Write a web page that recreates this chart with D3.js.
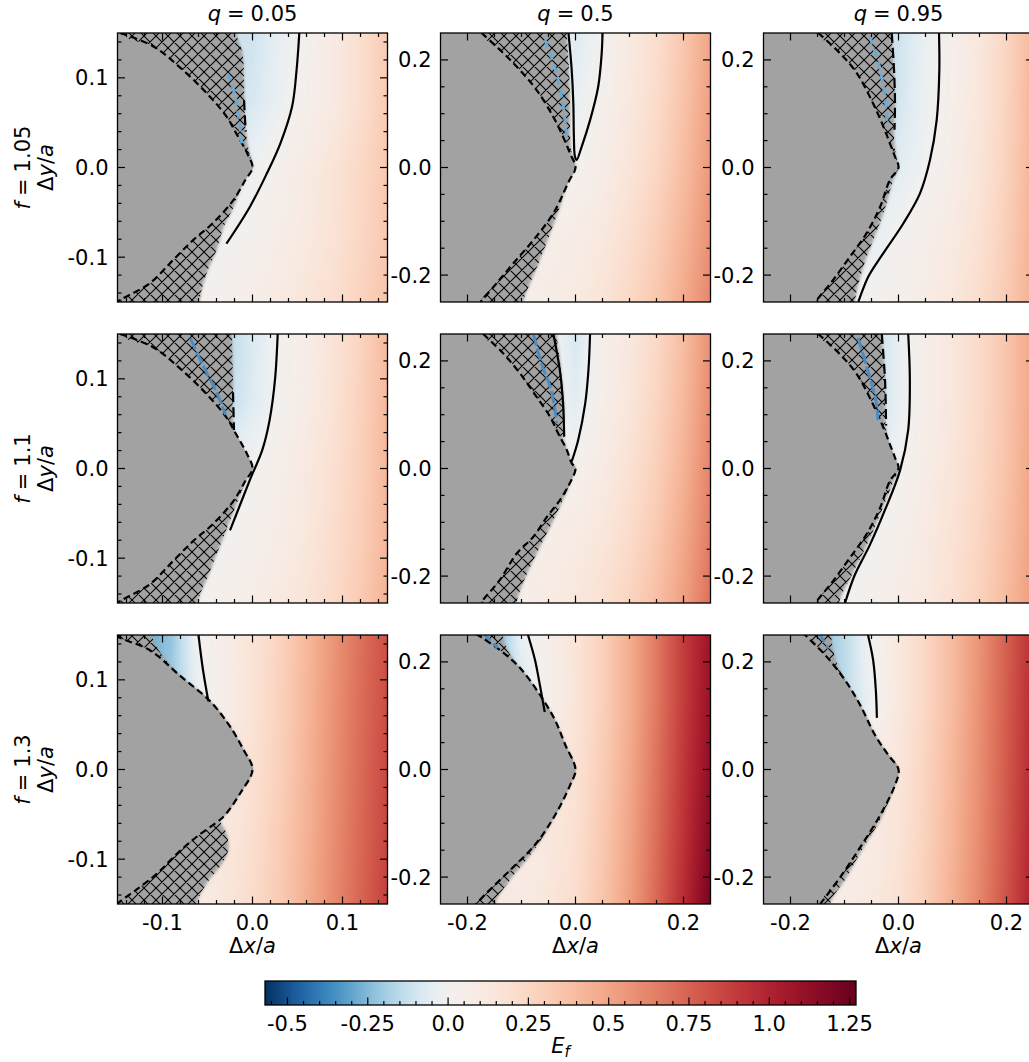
<!DOCTYPE html>
<html><head><meta charset="utf-8">
<script src="https://cdn.jsdelivr.net/npm/d3@7"></script>
<style>body{margin:0;background:#fff} svg{display:block} text{font-family:"DejaVu Sans",sans-serif;fill:#000}</style>
</head><body><svg id="c" width="1029" height="1062"></svg>
<script>
// ---------------- DATA ----------------
const qLabels = ["0.05", "0.5", "0.95"];
const fLabels = ["1.05", "1.1", "1.3"];
const axisLimits = [0.15, 0.25, 0.25];
const majorC1 = [-0.1, 0, 0.1], majorLabC1 = ["-0.1", "0.0", "0.1"];
const majorC23 = [-0.2, 0, 0.2], majorLabC23 = ["-0.2", "0.0", "0.2"];
const minorC1 = [-0.14, -0.12, -0.08, -0.06, -0.04, -0.02, 0.02, 0.04, 0.06, 0.08, 0.12, 0.14];
const minorC23 = [-0.15, -0.1, -0.05, 0.05, 0.1, 0.15];
const cbTicks = [-0.5, -0.25, 0, 0.25, 0.5, 0.75, 1.0, 1.25];
const cbTickLabels = ["-0.5", "-0.25", "0.0", "0.25", "0.5", "0.75", "1.0", "1.25"];
const cbMin = -0.57, cbMax = 1.27;

// grid nodes for the E_f field
const gridX_c1 = [-0.15, -0.12, -0.09, -0.06, -0.03, 0, 0.03, 0.06, 0.09, 0.12, 0.15];
const gridY_c1 = [0.15, 0.075, 0, -0.075, -0.15];
const gridX_c23 = [-0.25, -0.2, -0.15, -0.1, -0.05, 0, 0.05, 0.1, 0.15, 0.2, 0.25];
const gridY_c23 = [0.25, 0.125, 0, -0.125, -0.25];

// E_f values (rows top->bottom, columns left->right)
const E_r1c1 = [
 [-0.10,-0.10,-0.10,-0.10,-0.12,-0.11,-0.04,0.02,0.10,0.20,0.32],
 [-0.10,-0.10,-0.10,-0.10,-0.11,-0.09,-0.03,0.03,0.10,0.20,0.32],
 [-0.05,-0.05,-0.05,-0.05,-0.05,-0.02,0.03,0.09,0.16,0.24,0.33],
 [0.0,0.0,0.0,-0.01,-0.005,0.02,0.06,0.11,0.17,0.25,0.34],
 [0.02,0.02,0.02,0.02,0.03,0.06,0.10,0.15,0.20,0.27,0.35]];
const E_r1c2 = [
 [0.05,0.05,0.05,0.05,0.04,-0.07,0.0,0.10,0.20,0.34,0.50],
 [0.05,0.05,0.05,0.05,0.03,-0.04,0.03,0.12,0.22,0.36,0.52],
 [0.05,0.05,0.05,0.05,0.03,0.01,0.07,0.15,0.25,0.39,0.55],
 [0.05,0.05,0.05,0.05,0.05,0.07,0.12,0.20,0.30,0.43,0.58],
 [0.05,0.05,0.05,0.05,0.07,0.10,0.16,0.24,0.34,0.47,0.62]];
const E_r1c3 = [
 [-0.12,-0.12,-0.12,-0.12,-0.13,-0.11,-0.03,0.04,0.13,0.26,0.42],
 [-0.12,-0.12,-0.12,-0.12,-0.13,-0.10,-0.025,0.045,0.14,0.27,0.43],
 [-0.10,-0.10,-0.10,-0.10,-0.09,-0.06,-0.01,0.06,0.15,0.28,0.44],
 [-0.06,-0.06,-0.06,-0.06,-0.05,0.0,0.04,0.10,0.18,0.30,0.45],
 [-0.02,-0.02,-0.02,-0.02,0.01,0.04,0.08,0.13,0.21,0.32,0.46]];
const E_r2c1 = [
 [-0.16,-0.16,-0.16,-0.16,-0.16,-0.08,0.0,0.07,0.16,0.27,0.40],
 [-0.15,-0.15,-0.15,-0.15,-0.14,-0.07,0.01,0.08,0.17,0.28,0.41],
 [-0.05,-0.05,-0.05,-0.05,-0.04,0.0,0.05,0.11,0.19,0.29,0.42],
 [0.0,0.0,0.0,-0.01,-0.005,0.03,0.07,0.13,0.21,0.30,0.42],
 [0.02,0.02,0.02,0.02,0.04,0.07,0.11,0.16,0.23,0.32,0.44]];
const E_r2c2 = [
 [0.05,0.05,0.05,0.05,0.02,-0.09,0.04,0.12,0.24,0.39,0.58],
 [0.05,0.05,0.05,0.05,0.02,-0.06,0.05,0.14,0.26,0.41,0.60],
 [0.05,0.05,0.05,0.05,0.04,0.02,0.09,0.18,0.29,0.44,0.63],
 [0.05,0.05,0.05,0.05,0.06,0.09,0.14,0.22,0.33,0.48,0.66],
 [0.05,0.05,0.05,0.06,0.09,0.13,0.19,0.27,0.38,0.52,0.70]];
const E_r2c3 = [
 [-0.13,-0.13,-0.13,-0.13,-0.14,-0.04,0.05,0.13,0.23,0.35,0.50],
 [-0.13,-0.13,-0.13,-0.13,-0.13,-0.04,0.05,0.13,0.23,0.35,0.50],
 [-0.08,-0.08,-0.08,-0.08,-0.07,0.0,0.07,0.15,0.24,0.36,0.51],
 [-0.04,-0.04,-0.04,-0.04,-0.01,0.04,0.10,0.17,0.26,0.38,0.52],
 [-0.02,-0.02,-0.02,0.0,0.03,0.07,0.12,0.19,0.28,0.40,0.54]];
const E_r3c1 = [
 [-0.30,-0.30,-0.22,0.00,0.07,0.16,0.27,0.41,0.56,0.70,0.82],
 [-0.25,-0.25,-0.20,-0.04,0.06,0.16,0.28,0.42,0.57,0.71,0.83],
 [0.0,0.0,0.0,0.04,0.10,0.18,0.29,0.43,0.58,0.72,0.85],
 [0.05,0.05,0.05,0.07,0.12,0.20,0.31,0.44,0.59,0.73,0.86],
 [0.07,0.07,0.07,0.09,0.14,0.22,0.32,0.46,0.60,0.74,0.88]];
const E_r3c2 = [
 [-0.30,-0.30,-0.28,-0.03,0.05,0.15,0.29,0.46,0.67,0.89,1.08],
 [-0.20,-0.20,-0.20,-0.10,0.03,0.15,0.29,0.46,0.67,0.89,1.10],
 [0.05,0.05,0.05,0.05,0.10,0.17,0.31,0.48,0.69,0.91,1.13],
 [0.08,0.08,0.08,0.08,0.12,0.19,0.33,0.50,0.71,0.93,1.17],
 [0.10,0.10,0.10,0.10,0.14,0.21,0.35,0.52,0.73,0.96,1.22]];
const E_r3c3 = [
 [-0.25,-0.25,-0.25,-0.15,0.0,0.12,0.25,0.40,0.57,0.76,0.95],
 [-0.20,-0.20,-0.20,-0.15,-0.02,0.12,0.25,0.40,0.58,0.77,0.97],
 [0.0,0.0,0.0,0.03,0.07,0.14,0.27,0.42,0.59,0.78,0.98],
 [0.05,0.05,0.05,0.06,0.09,0.16,0.28,0.43,0.60,0.79,1.00],
 [0.07,0.07,0.07,0.08,0.11,0.18,0.30,0.45,0.62,0.81,1.02]];

// outer boundary of the grey (excluded) region, top edge -> bottom edge
const outer_r1c1 = [[-0.018,0.15],[-0.011,0.127],[-0.0094,0.09],[-0.0083,0.053],[-0.0072,0.038],[-0.004,0.018],[0,0],[-0.0064,-0.01],[-0.014,-0.025],[-0.021,-0.044],[-0.032,-0.066],[-0.040,-0.092],[-0.051,-0.118],[-0.059,-0.15]];
const outer_r1c2 = [[-0.016,0.25],[-0.012,0.181],[-0.010,0.119],[-0.010,0.057],[-0.007,0.026],[0,0],[-0.006,-0.012],[-0.016,-0.030],[-0.029,-0.073],[-0.047,-0.122],[-0.066,-0.172],[-0.084,-0.215],[-0.097,-0.25]];
const outer_r1c3 = [[-0.0126,0.25],[-0.0083,0.181],[-0.0065,0.119],[-0.0083,0.057],[-0.005,0.025],[0,0],[-0.0096,-0.023],[-0.028,-0.085],[-0.047,-0.135],[-0.065,-0.184],[-0.081,-0.25]];
const outer_r2c1 = [[-0.0228,0.15],[-0.0217,0.099],[-0.0206,0.043],[-0.012,0.02],[0,0],[-0.007,-0.013],[-0.016,-0.035],[-0.027,-0.063],[-0.038,-0.091],[-0.049,-0.119],[-0.061,-0.15]];
const outer_r2c2 = [[-0.035,0.25],[-0.029,0.202],[-0.024,0.152],[-0.021,0.103],[-0.0226,0.059],[-0.016,0.034],[-0.007,0.01],[0,0],[-0.006,-0.015],[-0.013,-0.034],[-0.029,-0.071],[-0.053,-0.120],[-0.078,-0.170],[-0.100,-0.220],[-0.109,-0.25]];
const outer_r2c3 = [[-0.031,0.25],[-0.025,0.165],[-0.023,0.072],[-0.012,0.03],[0,0],[-0.012,-0.03],[-0.036,-0.09],[-0.060,-0.145],[-0.085,-0.195],[-0.110,-0.25]];
const outer_r3c1 = [[-0.112,0.15],[-0.100,0.127],[-0.081,0.105],[-0.047,0.076],[-0.025,0.048],[-0.010,0.022],[0,0],[-0.014,-0.027],[-0.029,-0.049],[-0.036,-0.056],[-0.029,-0.071],[-0.027,-0.090],[-0.036,-0.108],[-0.051,-0.127],[-0.062,-0.15]];
const outer_r3c2 = [[-0.135,0.25],[-0.122,0.215],[-0.103,0.189],[-0.066,0.139],[-0.038,0.092],[-0.019,0.046],[0,0],[-0.010,-0.029],[-0.019,-0.047],[-0.047,-0.103],[-0.084,-0.159],[-0.121,-0.205],[-0.149,-0.25]];
const outer_r3c3 = [[-0.125,0.25],[-0.115,0.2],[-0.099,0.166],[-0.071,0.12],[-0.0435,0.064],[-0.019,0.027],[0,0],[-0.0102,-0.038],[-0.034,-0.094],[-0.068,-0.15],[-0.099,-0.205],[-0.127,-0.25]];

// inner boundary (dashed contour) of the plain grey region
const inner_r1c1 = [[-0.147,0.15],[-0.110,0.135],[-0.081,0.112],[-0.051,0.083],[-0.029,0.057],[-0.018,0.038],[-0.006,0.016],[0,0],[-0.008,-0.014],[-0.021,-0.036],[-0.044,-0.062],[-0.066,-0.081],[-0.088,-0.103],[-0.114,-0.129],[-0.144,-0.146],[-0.152,-0.151]];
const inner_r1c2 = [[-0.174,0.25],[-0.134,0.213],[-0.103,0.181],[-0.072,0.144],[-0.041,0.094],[-0.023,0.057],[-0.010,0.026],[0,0],[-0.012,-0.025],[-0.041,-0.085],[-0.078,-0.135],[-0.115,-0.178],[-0.146,-0.215],[-0.176,-0.25]];
const inner_r1c3 = [[-0.1485,0.25],[-0.108,0.212],[-0.077,0.175],[-0.047,0.119],[-0.028,0.076],[-0.016,0.045],[-0.0065,0.02],[0,0],[-0.016,-0.023],[-0.034,-0.073],[-0.059,-0.122],[-0.090,-0.166],[-0.121,-0.209],[-0.1485,-0.243],[-0.154,-0.252]];
const inner_r2c1 = [[-0.147,0.15],[-0.110,0.135],[-0.081,0.112],[-0.051,0.083],[-0.029,0.057],[-0.018,0.038],[-0.006,0.016],[0,0],[-0.008,-0.014],[-0.021,-0.036],[-0.044,-0.062],[-0.066,-0.081],[-0.088,-0.103],[-0.114,-0.129],[-0.144,-0.146],[-0.152,-0.151]];
const inner_r2c2 = [[-0.171,0.25],[-0.134,0.214],[-0.103,0.177],[-0.072,0.133],[-0.047,0.096],[-0.032,0.065],[-0.016,0.034],[-0.007,0.01],[0,0],[-0.012,-0.03],[-0.029,-0.059],[-0.053,-0.090],[-0.078,-0.127],[-0.109,-0.158],[-0.140,-0.207],[-0.171,-0.244],[-0.176,-0.252]];
const inner_r2c3 = [[-0.1485,0.25],[-0.108,0.212],[-0.077,0.175],[-0.047,0.119],[-0.028,0.076],[-0.016,0.045],[-0.0065,0.02],[0,0],[-0.016,-0.023],[-0.034,-0.073],[-0.059,-0.122],[-0.090,-0.166],[-0.121,-0.209],[-0.1485,-0.243],[-0.154,-0.252]];
const inner_r3c1 = [[-0.151,0.151],[-0.149,0.148],[-0.114,0.133],[-0.081,0.105],[-0.047,0.076],[-0.025,0.048],[-0.010,0.022],[0,0],[-0.014,-0.027],[-0.029,-0.049],[-0.036,-0.056],[-0.062,-0.075],[-0.084,-0.094],[-0.106,-0.116],[-0.129,-0.134],[-0.147,-0.147],[-0.152,-0.151]];
const inner_r3c2 = [[-0.185,0.252],[-0.181,0.25],[-0.140,0.222],[-0.103,0.189],[-0.066,0.139],[-0.038,0.092],[-0.019,0.046],[0,0],[-0.010,-0.029],[-0.038,-0.085],[-0.075,-0.140],[-0.121,-0.187],[-0.168,-0.233],[-0.186,-0.252]];
const inner_r3c3 = [[-0.178,0.255],[-0.173,0.25],[-0.136,0.213],[-0.099,0.166],[-0.071,0.12],[-0.0435,0.064],[-0.019,0.027],[0,0],[-0.0065,-0.029],[-0.034,-0.085],[-0.068,-0.140],[-0.105,-0.196],[-0.145,-0.25]];

// E_f = 0 contours (solid black)
const zero_r1c1 = [[[0.052,0.15],[0.049,0.109],[0.044,0.068],[0.031,0.027],[0.016,-0.0065],[-0.003,-0.044],[-0.029,-0.085]]];
const zero_r1c2 = [[[-0.013,0.25],[-0.007,0.181],[-0.004,0.119],[-0.003,0.057],[-0.001,0.02],[0.002,0.0139],[0.0115,0.039],[0.027,0.088],[0.042,0.150],[0.0485,0.212],[0.050,0.25]]];
const zero_r1c3 = [[[0.075,0.25],[0.0756,0.181],[0.0707,0.088],[0.0583,0.014],[0.0398,-0.048],[0.0089,-0.104],[-0.028,-0.159],[-0.056,-0.203],[-0.0744,-0.25]]];
const zero_r2c1 = [[[0.028,0.15],[0.025,0.099],[0.019,0.054],[0.011,0.021],[-0.003,-0.013],[-0.014,-0.041],[-0.025,-0.069]]];
const zero_r2c2 = [[[-0.041,0.25],[-0.029,0.183],[-0.023,0.121],[-0.021,0.059]], [[-0.007,0.013],[0.005,0.053],[0.018,0.121],[0.024,0.183],[0.027,0.25]]];
const zero_r2c3 = [[[0.018,0.25],[0.021,0.165],[0.018,0.072],[0.003,-0.003],[-0.025,-0.077],[-0.053,-0.142],[-0.081,-0.198],[-0.099,-0.25]]];
const zero_r3c1 = [[[-0.060,0.15],[-0.055,0.111],[-0.049,0.076]]];
const zero_r3c2 = [[[-0.088,0.25],[-0.075,0.2035],[-0.066,0.157],[-0.057,0.107]]];
const zero_r3c3 = [[[-0.0565,0.25],[-0.047,0.2035],[-0.042,0.148],[-0.040,0.096]]];

// blue dashed contours inside the hatched band
const blue_r1c1 = [[-0.028,0.105],[-0.021,0.086],[-0.016,0.061],[-0.012,0.027]];
const blue_r1c2 = [[-0.0565,0.237],[-0.041,0.194],[-0.029,0.150],[-0.021,0.101],[-0.016,0.051]];
const blue_r1c3 = [[-0.053,0.243],[-0.037,0.194],[-0.028,0.150],[-0.022,0.101],[-0.022,0.076]];
const blue_r2c1 = [[-0.069,0.145],[-0.055,0.115],[-0.040,0.085],[-0.030,0.060]];
const blue_r2c2 = [[-0.078,0.25],[-0.063,0.195],[-0.047,0.152],[-0.038,0.109],[-0.035,0.084]];
const blue_r2c3 = [[-0.075,0.243],[-0.057,0.183],[-0.042,0.127],[-0.038,0.090]];
const blue_r3c1 = [];
const blue_r3c2 = [[-0.168,0.25],[-0.144,0.226]];
const blue_r3c3 = [[-0.145,0.25],[-0.13,0.225]];

// dashed black segments along the right edge of the upper hatched band
const edge_r1c1 = [[-0.0094,0.075],[-0.0083,0.053],[-0.0075,0.04]];
const edge_r1c2 = [];
const edge_r1c3 = [[-0.0126,0.25],[-0.0083,0.181],[-0.0065,0.119],[-0.0075,0.07]];
const edge_r2c1 = [[-0.0217,0.085],[-0.0206,0.043]];
const edge_r2c2 = [];
const edge_r2c3 = [[-0.031,0.25],[-0.025,0.165],[-0.023,0.08]];
const edge_r3c1 = [];
const edge_r3c2 = [];
const edge_r3c3 = [];

// ---------------- LAYOUT ----------------
const colX = [117.5, 440.5, 763.5], rowY = [33, 334, 635], PW = 270, PH = 269;
const GREY = "#a2a2a2";
const FS = 21;
const blueStyle = [{c: "#6aa8d4", d: "8,5"}, {c: "#4a8cc2", d: "12,3"}, {c: "#4a8cc2", d: "8,4"}];
const svg = d3.select("#c");
const defs = svg.append("defs");
defs.append("filter").attr("id", "blur").attr("x", "-20%").attr("y", "-20%").attr("width", "140%").attr("height", "140%")
  .append("feGaussianBlur").attr("stdDeviation", 1.6);
const hp = defs.append("pattern").attr("id", "hatch").attr("patternUnits", "userSpaceOnUse").attr("width", 12).attr("height", 12);
hp.append("path").attr("d", "M-1,1L1,-1M0,12L12,0M11,13L13,11M-1,11L1,13M0,0L12,12M11,-1L13,1")
  .attr("stroke", "#000").attr("stroke-width", 1.05).attr("fill", "none");

const cScale = d3.scaleDiverging([cbMin, 0, cbMax], t => d3.interpolateRdBu(1 - t)).clamp(true);
const colorCache = new Map();
function rgbOf(v) {
  const k = Math.round(v * 2000);
  let c = colorCache.get(k);
  if (!c) { c = d3.rgb(cScale(k / 2000)); colorCache.set(k, c); }
  return c;
}

const panels = [
  {r:0,c:0,E:E_r1c1,outer:outer_r1c1,inner:inner_r1c1,zero:zero_r1c1,blue:blue_r1c1,edge:edge_r1c1},
  {r:0,c:1,E:E_r1c2,outer:outer_r1c2,inner:inner_r1c2,zero:zero_r1c2,blue:blue_r1c2,edge:edge_r1c2},
  {r:0,c:2,E:E_r1c3,outer:outer_r1c3,inner:inner_r1c3,zero:zero_r1c3,blue:blue_r1c3,edge:edge_r1c3},
  {r:1,c:0,E:E_r2c1,outer:outer_r2c1,inner:inner_r2c1,zero:zero_r2c1,blue:blue_r2c1,edge:edge_r2c1},
  {r:1,c:1,E:E_r2c2,outer:outer_r2c2,inner:inner_r2c2,zero:zero_r2c2,blue:blue_r2c2,edge:edge_r2c2},
  {r:1,c:2,E:E_r2c3,outer:outer_r2c3,inner:inner_r2c3,zero:zero_r2c3,blue:blue_r2c3,edge:edge_r2c3},
  {r:2,c:0,E:E_r3c1,outer:outer_r3c1,inner:inner_r3c1,zero:zero_r3c1,blue:blue_r3c1,edge:edge_r3c1},
  {r:2,c:1,E:E_r3c2,outer:outer_r3c2,inner:inner_r3c2,zero:zero_r3c2,blue:blue_r3c2,edge:edge_r3c2},
  {r:2,c:2,E:E_r3c3,outer:outer_r3c3,inner:inner_r3c3,zero:zero_r3c3,blue:blue_r3c3,edge:edge_r3c3}
];

function fieldURL(E, gx, gy, xs, ys, x0, y0) {
  const cv = document.createElement("canvas"); cv.width = PW; cv.height = PH;
  const ctx = cv.getContext("2d"); const im = ctx.createImageData(PW, PH);
  const fx = d3.scaleLinear().domain(gx).range(d3.range(gx.length)).clamp(true);
  const fy = d3.scaleLinear().domain(gy.slice().reverse()).range(d3.range(gy.length).reverse()).clamp(true);
  for (let j = 0; j < PH; j++) {
    const fj = fy(ys.invert(y0 + j + 0.5));
    const j0 = Math.min(Math.floor(fj), gy.length - 2), tj = fj - j0;
    for (let i = 0; i < PW; i++) {
      const fi = fx(xs.invert(x0 + i + 0.5));
      const i0 = Math.min(Math.floor(fi), gx.length - 2), ti = fi - i0;
      const v = (1 - tj) * ((1 - ti) * E[j0][i0] + ti * E[j0][i0 + 1]) + tj * ((1 - ti) * E[j0 + 1][i0] + ti * E[j0 + 1][i0 + 1]);
      const c = rgbOf(v), k = 4 * (j * PW + i);
      im.data[k] = c.r; im.data[k + 1] = c.g; im.data[k + 2] = c.b; im.data[k + 3] = 255;
    }
  }
  ctx.putImageData(im, 0, 0);
  return cv.toDataURL();
}

function mathText(sel, parts) {
  parts.forEach(p => {
    const t = sel.append("tspan").text(p[0]);
    if (p[1]) t.attr("font-style", "italic");
    if (p[2]) t.attr("dx", p[2]);
  });
  return sel;
}

panels.forEach((P, idx) => {
  const lim = axisLimits[P.c];
  const x0 = colX[P.c], y0 = rowY[P.r];
  const xs = d3.scaleLinear().domain([-lim, lim]).range([x0, x0 + PW]);
  const ys = d3.scaleLinear().domain([-lim, lim]).range([y0 + PH, y0]);
  const gx = P.c === 0 ? gridX_c1 : gridX_c23, gy = P.c === 0 ? gridY_c1 : gridY_c23;
  const line = d3.line().x(d => xs(d[0])).y(d => ys(d[1])).curve(d3.curveCatmullRom.alpha(0.5));
  const ext = lim * 0.4;

  const cid = "clip" + idx;
  defs.append("clipPath").attr("id", cid).append("rect").attr("x", x0).attr("y", y0).attr("width", PW).attr("height", PH);
  const g = svg.append("g").attr("clip-path", `url(#${cid})`);

  g.append("image").attr("x", x0).attr("y", y0).attr("width", PW).attr("height", PH)
    .attr("preserveAspectRatio", "none").attr("href", fieldURL(P.E, gx, gy, xs, ys, x0, y0));

  function regionPath(pts) {
    const first = pts[0], last = pts[pts.length - 1];
    const full = [[first[0], lim + ext]].concat(pts, [[last[0], -lim - ext]]);
    return line(full) + `L${xs(-lim - ext)},${ys(-lim - ext)}L${xs(-lim - ext)},${ys(lim + ext)}Z`;
  }
  g.append("path").attr("d", regionPath(P.outer)).attr("fill", GREY).attr("filter", "url(#blur)");
  g.append("path").attr("d", regionPath(P.outer)).attr("fill", "url(#hatch)");
  g.append("path").attr("d", regionPath(P.inner)).attr("fill", GREY);

  g.append("path").attr("d", line(P.inner)).attr("fill", "none").attr("stroke", "#000")
    .attr("stroke-width", 2.2).attr("stroke-dasharray", "7,4");
  const bs = blueStyle[P.r];
  if (P.blue.length) g.append("path").attr("d", line(P.blue)).attr("fill", "none").attr("stroke", bs.c)
    .attr("stroke-width", 3).attr("stroke-dasharray", bs.d);
  if (P.edge.length) g.append("path").attr("d", line(P.edge)).attr("fill", "none").attr("stroke", "#000")
    .attr("stroke-width", 2.2).attr("stroke-dasharray", "10,5");
  P.zero.forEach(z => g.append("path").attr("d", line(z)).attr("fill", "none").attr("stroke", "#000").attr("stroke-width", 2.2));

  // frame and ticks
  svg.append("rect").attr("x", x0).attr("y", y0).attr("width", PW).attr("height", PH)
    .attr("fill", "none").attr("stroke", "#000").attr("stroke-width", 1.3);
  const major = P.c === 0 ? majorC1 : majorC23, minor = P.c === 0 ? minorC1 : minorC23;
  const labs = P.c === 0 ? majorLabC1 : majorLabC23;
  const tg = svg.append("g").attr("stroke", "#000").attr("stroke-width", 1.2);
  [[major, 7.5], [minor, 4]].forEach(([vals, L]) => {
    vals.forEach(v => {
      tg.append("line").attr("x1", xs(v)).attr("x2", xs(v)).attr("y1", y0 + PH).attr("y2", y0 + PH - L);
      tg.append("line").attr("x1", xs(v)).attr("x2", xs(v)).attr("y1", y0).attr("y2", y0 + L);
      tg.append("line").attr("y1", ys(v)).attr("y2", ys(v)).attr("x1", x0).attr("x2", x0 + L);
      tg.append("line").attr("y1", ys(v)).attr("y2", ys(v)).attr("x1", x0 + PW).attr("x2", x0 + PW - L);
    });
  });
  major.forEach((v, i) => {
    svg.append("text").attr("x", x0 - 9).attr("y", ys(v)).attr("dy", "0.36em").attr("text-anchor", "end")
      .attr("font-size", FS).text(labs[i]);
    if (P.r === 2) svg.append("text").attr("x", xs(v)).attr("y", y0 + PH + 26).attr("text-anchor", "middle")
      .attr("font-size", FS).text(labs[i]);
  });
  if (P.r === 0) mathText(svg.append("text").attr("x", x0 + PW / 2).attr("y", 21).attr("text-anchor", "middle").attr("font-size", FS),
    [["q", true], ["=", false, 6], [qLabels[P.c], false, 6]]);
  if (P.r === 2) mathText(svg.append("text").attr("x", x0 + PW / 2).attr("y", 953).attr("text-anchor", "middle").attr("font-size", FS),
    [["Δ", false], ["x", true], ["/", false], ["a", true]]);
  if (P.c === 0) {
    const yc = y0 + PH / 2;
    mathText(svg.append("text").attr("transform", `translate(30,${yc}) rotate(-90)`).attr("text-anchor", "middle").attr("font-size", FS),
      [["f", true], ["=", false, 6], [fLabels[P.r], false, 6]]);
    mathText(svg.append("text").attr("transform", `translate(53,${yc}) rotate(-90)`).attr("text-anchor", "middle").attr("font-size", FS),
      [["Δ", false], ["y", true], ["/", false], ["a", true]]);
  }
});

// ---------------- COLORBAR ----------------
const cbX0 = 265, cbX1 = 856, cbY0 = 981, cbH = 24;
const cbx = d3.scaleLinear().domain([cbMin, cbMax]).range([cbX0, cbX1]);
const grad = defs.append("linearGradient").attr("id", "cbgrad").attr("x1", "0%").attr("x2", "100%").attr("y1", "0%").attr("y2", "0%");
const stopVals = d3.range(0, 101).map(i => cbMin + (cbMax - cbMin) * i / 100).concat([0]).sort((a, b) => a - b);
stopVals.forEach(v => grad.append("stop").attr("offset", ((v - cbMin) / (cbMax - cbMin) * 100) + "%").attr("stop-color", cScale(v)));
svg.append("rect").attr("x", cbX0).attr("y", cbY0).attr("width", cbX1 - cbX0).attr("height", cbH).attr("fill", "url(#cbgrad)");
const cbt = svg.append("g").attr("stroke", "#000").attr("stroke-width", 1.2);
const cbMinor = d3.range(-0.55, 1.2701, 0.05).filter(v => cbTicks.every(t => Math.abs(t - v) > 1e-6));
cbMinor.forEach(v => cbt.append("line").attr("x1", cbx(v)).attr("x2", cbx(v)).attr("y1", cbY0 + cbH).attr("y2", cbY0 + cbH - 4));
cbTicks.forEach((v, i) => {
  cbt.append("line").attr("x1", cbx(v)).attr("x2", cbx(v)).attr("y1", cbY0 + cbH).attr("y2", cbY0 + cbH - 7.5);
  svg.append("text").attr("x", cbx(v)).attr("y", cbY0 + cbH + 26).attr("text-anchor", "middle").attr("font-size", FS).text(cbTickLabels[i]);
});
svg.append("rect").attr("x", cbX0).attr("y", cbY0).attr("width", cbX1 - cbX0).attr("height", cbH)
  .attr("fill", "none").attr("stroke", "#000").attr("stroke-width", 1.3);
const ef = svg.append("text").attr("x", (cbX0 + cbX1) / 2).attr("y", 1053).attr("text-anchor", "middle").attr("font-size", FS);
ef.append("tspan").attr("font-style", "italic").text("E");
ef.append("tspan").attr("font-style", "italic").attr("font-size", 15).attr("dy", 4).text("f");
</script></body></html>
